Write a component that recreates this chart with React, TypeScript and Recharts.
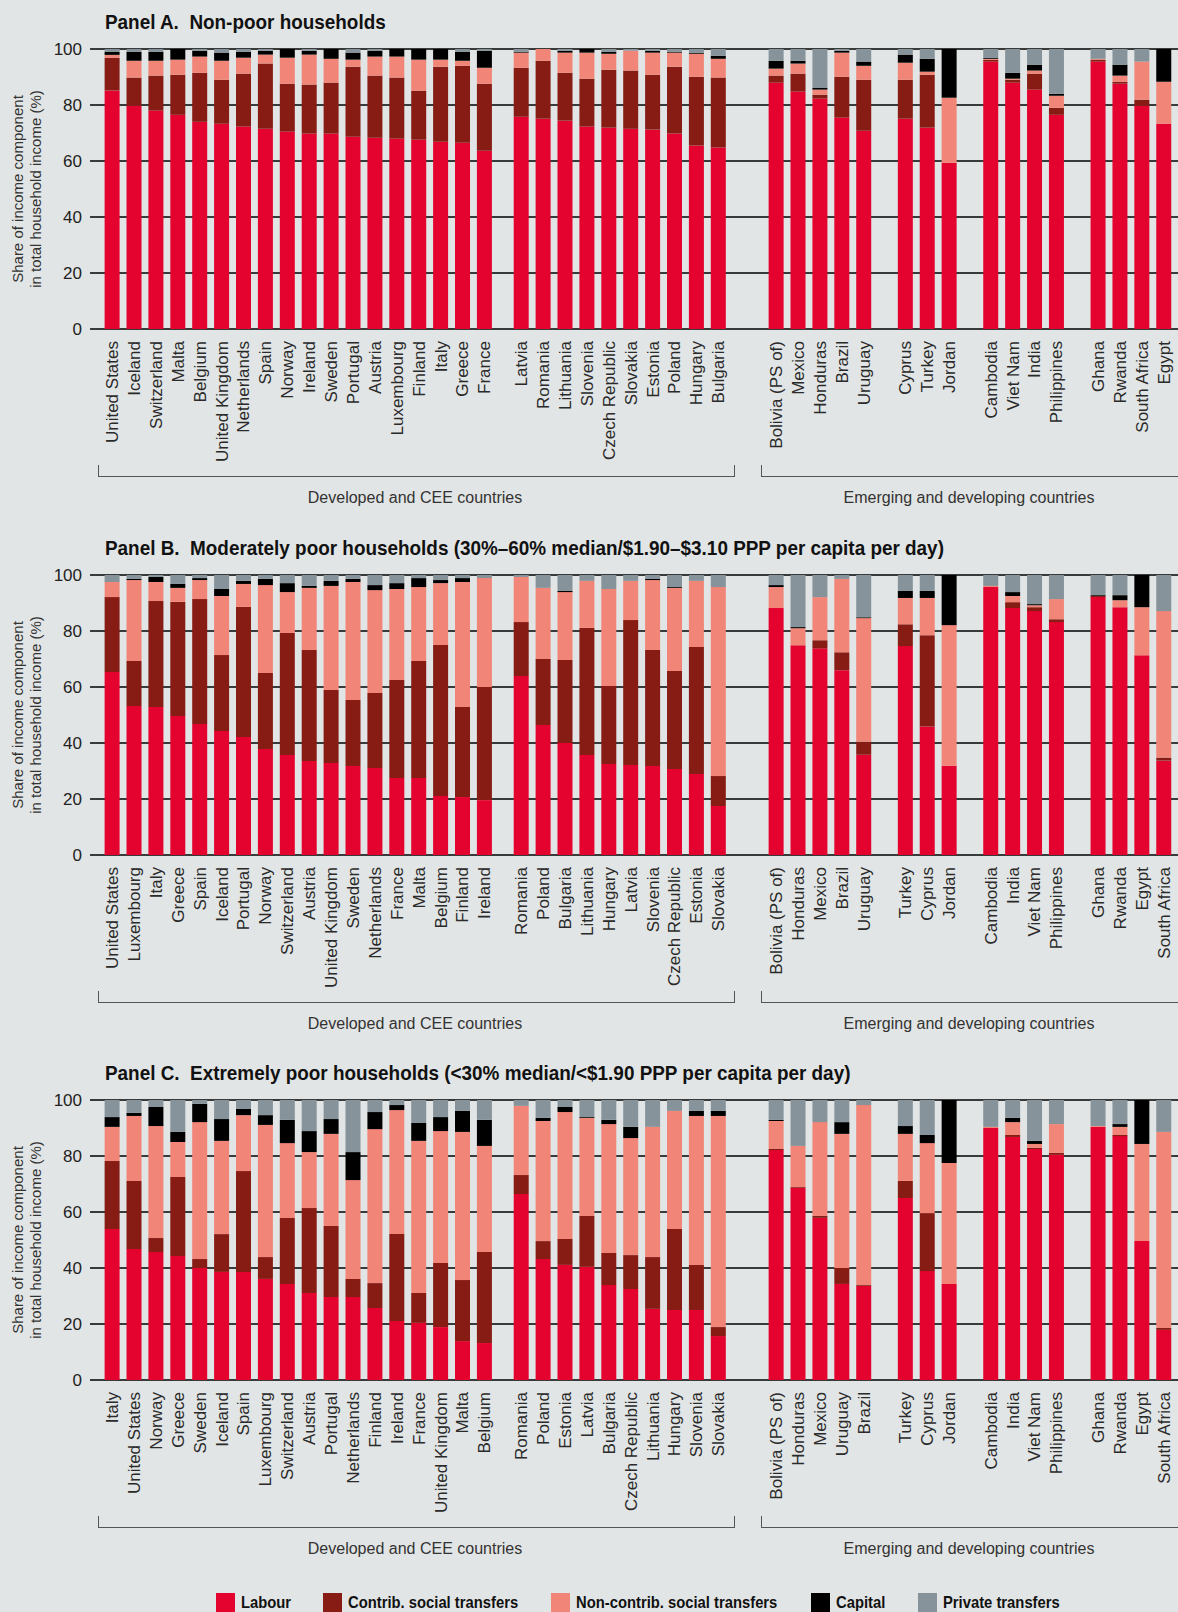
import React from 'react';
import { BarChart, Bar, XAxis, YAxis, CartesianGrid } from 'recharts';

// groups: developed (18), CEE (10), then four emerging/developing groups
const groupSizes = [18, 10, 5, 3, 4, 4];
const groupGaps = [0, 1.68, 2.64, 1.9, 1.9, 1.9];

const countriesA = [
  'United States', 'Iceland', 'Switzerland', 'Malta', 'Belgium', 'United Kingdom', 'Netherlands', 'Spain', 'Norway',
  'Ireland', 'Sweden', 'Portugal', 'Austria', 'Luxembourg', 'Finland', 'Italy', 'Greece', 'France',
  'Latvia', 'Romania', 'Lithuania', 'Slovenia', 'Czech Republic', 'Slovakia', 'Estonia', 'Poland', 'Hungary', 'Bulgaria',
  'Bolivia (PS of)', 'Mexico', 'Honduras', 'Brazil', 'Uruguay',
  'Cyprus', 'Turkey', 'Jordan',
  'Cambodia', 'Viet Nam', 'India', 'Philippines',
  'Ghana', 'Rwanda', 'South Africa', 'Egypt',
];
const labourA = [85.2, 79.8, 78.0, 76.5, 74.0, 73.3, 72.3, 71.5, 70.5, 69.8, 69.8, 68.7, 68.3, 68.0, 67.6, 66.9, 66.5, 63.7,
  75.8, 75.1, 74.4, 72.3, 71.9, 71.5, 71.2, 69.8, 65.5, 64.8,
  88.0, 84.8, 82.3, 75.5, 70.8, 75.1, 71.9, 59.4, 95.5, 88.0, 85.5, 76.5, 95.5, 87.6, 79.8, 73.3];
const contribA = [11.7, 10.0, 12.5, 14.3, 17.5, 15.7, 18.9, 23.3, 17.1, 17.5, 18.2, 25.0, 22.2, 21.8, 17.5, 26.8, 27.5, 23.9,
  17.5, 20.7, 17.1, 17.1, 20.7, 20.8, 19.6, 23.9, 24.6, 25.0,
  2.5, 6.4, 1.4, 14.6, 18.2, 13.9, 18.9, 0, 0.6, 1.0, 5.7, 2.5, 0.7, 0.7, 2.1, 0];
const nonContribA = [1.0, 6.0, 5.3, 5.4, 5.8, 6.8, 5.7, 3.2, 9.3, 10.7, 8.5, 2.5, 6.8, 7.5, 11.1, 2.5, 1.8, 5.7,
  5.4, 4.2, 7.2, 9.3, 5.7, 7.1, 7.9, 5.0, 8.2, 6.7,
  2.5, 3.6, 1.8, 8.6, 5.0, 6.1, 1.1, 23.2, 0.4, 0.4, 1.1, 4.3, 0.3, 2.2, 13.6, 15.0];
const capitalA = [1.1, 3.2, 3.2, 3.8, 2.1, 2.9, 2.1, 1.4, 3.1, 1.4, 3.5, 2.5, 2.1, 2.7, 3.8, 3.8, 3.2, 6.1,
  0.3, 0, 0.7, 1.3, 0.7, 0, 0.7, 0.3, 0.3, 1.1,
  2.8, 1.0, 0.7, 0.7, 1.5, 2.9, 4.6, 17.4, 0.3, 2.1, 2.1, 0.7, 0, 3.9, 0, 11.7];
const privateA = [1.0, 1.0, 1.0, 0, 0.6, 1.3, 1.0, 0.6, 0, 0.6, 0, 1.3, 0.6, 0, 0, 0, 1.0, 0.6,
  1.0, 0, 0.6, 0, 1.0, 0.6, 0.6, 1.0, 1.4, 2.4,
  4.2, 4.2, 13.8, 0.6, 4.5, 2.0, 3.5, 0, 3.2, 8.5, 5.6, 16.0, 3.5, 5.6, 4.5, 0];

const countriesB = [
  'United States', 'Luxembourg', 'Italy', 'Greece', 'Spain', 'Iceland', 'Portugal', 'Norway', 'Switzerland',
  'Austria', 'United Kingdom', 'Sweden', 'Netherlands', 'France', 'Malta', 'Belgium', 'Finland', 'Ireland',
  'Romania', 'Poland', 'Bulgaria', 'Lithuania', 'Hungary', 'Latvia', 'Slovenia', 'Czech Republic', 'Estonia', 'Slovakia',
  'Bolivia (PS of)', 'Honduras', 'Mexico', 'Brazil', 'Uruguay',
  'Turkey', 'Cyprus', 'Jordan',
  'Cambodia', 'India', 'Viet Nam', 'Philippines',
  'Ghana', 'Rwanda', 'Egypt', 'South Africa',
];
const labourB = [65.4, 53.2, 52.9, 49.6, 46.8, 44.3, 42.1, 37.9, 35.7, 33.6, 32.9, 31.8, 31.1, 27.5, 27.5, 21.1, 20.7, 19.6,
  63.9, 46.4, 40.0, 35.7, 32.5, 32.1, 31.8, 30.7, 28.9, 17.5,
  88.2, 74.9, 73.8, 66.0, 35.8, 74.6, 45.9, 31.9, 95.7, 88.2, 87.1, 83.2, 92.1, 88.5, 71.3, 33.7];
const contribB = [26.7, 16.1, 37.8, 40.8, 44.6, 27.1, 46.5, 27.1, 43.6, 39.6, 26.0, 23.6, 26.8, 35.0, 41.8, 53.9, 32.2, 40.4,
  19.3, 23.6, 29.6, 45.4, 27.9, 51.8, 41.4, 35.0, 45.4, 10.7,
  0, 0, 2.9, 6.4, 4.7, 7.8, 32.6, 0, 0, 2.1, 1.4, 1.0, 0.4, 0, 0, 1.1];
const nonContribB = [5.4, 28.9, 6.8, 5.0, 6.8, 21.1, 8.2, 31.4, 14.6, 22.2, 37.2, 42.1, 36.7, 32.5, 26.4, 22.1, 44.6, 38.9,
  16.1, 25.4, 24.3, 16.8, 34.6, 14.0, 25.0, 29.7, 23.6, 67.5,
  7.5, 6.1, 15.4, 26.2, 44.1, 9.4, 13.3, 50.2, 0.4, 2.2, 0.7, 7.2, 0, 2.5, 17.2, 52.3];
const capitalB = [0, 0.4, 1.8, 1.4, 0.7, 2.5, 1.1, 2.2, 3.2, 0.7, 1.8, 1.1, 1.8, 2.1, 3.2, 1.1, 1.4, 0,
  0, 0, 0.4, 0, 0, 0, 0.4, 0.3, 0, 0,
  0.7, 0.4, 0, 0, 0.3, 2.5, 2.5, 17.9, 0, 1.4, 0.4, 0, 0.3, 1.8, 11.5, 0];
const privateB = [2.5, 1.4, 0.7, 3.2, 1.1, 5.0, 2.1, 1.4, 2.9, 3.9, 2.1, 1.4, 3.6, 2.9, 1.1, 1.8, 1.1, 1.1,
  0.7, 4.6, 5.7, 2.1, 5.0, 2.1, 1.4, 4.3, 2.1, 4.3,
  3.6, 18.6, 7.9, 1.4, 15.1, 5.7, 5.7, 0, 3.9, 6.1, 10.4, 8.6, 7.2, 7.2, 0, 12.9];

const countriesC = [
  'Italy', 'United States', 'Norway', 'Greece', 'Sweden', 'Iceland', 'Spain', 'Luxembourg', 'Switzerland',
  'Austria', 'Portugal', 'Netherlands', 'Finland', 'Ireland', 'France', 'United Kingdom', 'Malta', 'Belgium',
  'Romania', 'Poland', 'Estonia', 'Latvia', 'Bulgaria', 'Czech Republic', 'Lithuania', 'Hungary', 'Slovenia', 'Slovakia',
  'Bolivia (PS of)', 'Honduras', 'Mexico', 'Uruguay', 'Brazil',
  'Turkey', 'Cyprus', 'Jordan',
  'Cambodia', 'India', 'Viet Nam', 'Philippines',
  'Ghana', 'Rwanda', 'Egypt', 'South Africa',
];
const labourC = [53.9, 46.8, 45.7, 44.3, 40.0, 38.6, 38.6, 36.1, 34.3, 31.1, 29.6, 29.6, 25.7, 21.1, 20.4, 18.9, 13.9, 13.2,
  66.4, 43.2, 41.1, 40.4, 33.9, 32.5, 25.4, 25.0, 25.0, 15.7,
  82.1, 68.6, 57.9, 34.3, 33.6, 65.0, 38.9, 34.3, 90.0, 86.8, 82.5, 80.4, 90.4, 87.1, 49.6, 17.9];
const contribC = [24.3, 24.3, 5.0, 28.2, 3.2, 13.5, 36.0, 7.8, 23.6, 30.3, 25.4, 6.5, 8.9, 31.0, 10.7, 22.9, 21.8, 32.5,
  6.8, 6.4, 9.3, 18.2, 11.5, 12.1, 18.5, 28.9, 16.1, 3.2,
  0.4, 0.3, 0.7, 5.7, 0.3, 6.1, 20.7, 0, 0, 0.7, 0.4, 0.7, 0, 0.4, 0, 0.7];
const nonContribC = [12.2, 23.2, 40.0, 12.5, 48.9, 33.3, 20.0, 47.2, 26.7, 20.0, 32.9, 35.3, 55.0, 44.3, 54.3, 47.1, 52.9, 37.9,
  24.7, 42.9, 45.3, 35.0, 46.0, 41.8, 46.5, 42.2, 53.2, 75.4,
  10.0, 14.7, 33.5, 47.9, 64.3, 16.8, 25.0, 43.2, 0.4, 4.6, 1.4, 10.3, 0.3, 2.9, 34.7, 70.0];
const capitalC = [3.5, 1.1, 6.8, 3.6, 6.5, 7.8, 2.2, 3.5, 8.3, 7.5, 5.3, 10.0, 6.1, 1.8, 6.4, 5.0, 7.5, 9.3,
  0, 1.1, 1.8, 0.3, 1.5, 4.0, 0, 0, 1.8, 1.8,
  0.4, 0, 0, 4.2, 0, 2.8, 2.9, 22.5, 0, 1.5, 1.1, 0, 0, 1.0, 15.7, 0];
const privateC = [6.1, 4.6, 2.5, 11.4, 1.4, 6.8, 3.2, 5.4, 7.1, 11.1, 6.8, 18.6, 4.3, 1.8, 8.2, 6.1, 3.9, 7.1,
  2.1, 6.4, 2.5, 6.1, 7.1, 9.6, 9.6, 3.9, 3.9, 3.9,
  7.1, 16.4, 7.9, 7.9, 1.8, 9.3, 12.5, 0, 9.6, 6.4, 14.6, 8.6, 9.3, 8.6, 0, 11.4];

const yTicks = [0, 20, 40, 60, 80, 100];

const series = [
  { key: 'labour', name: 'Labour', color: '#e4032e' },
  { key: 'contrib', name: 'Contrib. social transfers', color: '#861c14' },
  { key: 'nonContrib', name: 'Non-contrib. social transfers', color: '#f18577' },
  { key: 'capital', name: 'Capital', color: '#000000' },
  { key: 'privateT', name: 'Private transfers', color: '#86939a' },
];
// left edge of each legend swatch (px)
const legendLefts = [216, 323, 551, 811, 918];

// slot position of every bar, groups separated by wider gaps
const positions: number[] = [];
(() => {
  let p = 0;
  groupSizes.forEach((n, g) => {
    if (g > 0) p += groupGaps[g];
    for (let i = 0; i < n; i++) {
      positions.push(p);
      if (i < n - 1) p += 1;
    }
  });
})();

const BG = '#e2e5e5';
const SANS = '"Liberation Sans", Arial, sans-serif';
const NARROW = '"Liberation Sans Narrow", "Liberation Sans", Arial, sans-serif';

type PanelProps = {
  top: number;
  title: string;
  countries: string[];
  labour: number[];
  contrib: number[];
  nonContrib: number[];
  capital: number[];
  privateT: number[];
};

const Panel = ({ top, title, countries, labour, contrib, nonContrib, capital, privateT }: PanelProps) => {
  const rows = countries.map((name, i) => ({
    pos: positions[i],
    name,
    labour: labour[i],
    contrib: contrib[i],
    nonContrib: nonContrib[i],
    capital: capital[i],
    privateT: privateT[i],
  }));

  const CountryTick = (props: any) => {
    const { x, y, payload } = props;
    const row = rows.find((r) => Math.abs(r.pos - payload.value) < 0.01);
    return (
      <text
        x={x}
        y={y + 12}
        transform={`rotate(-90, ${x}, ${y + 12})`}
        textAnchor="end"
        dominantBaseline="central"
        fontSize={17}
        fontFamily={SANS}
        fill="#2a2a2a"
      >
        {row ? row.name : ''}
      </text>
    );
  };

  return (
    <div style={{ position: 'absolute', left: 0, top, width: 1178, height: 526 }}>
      <BarChart width={1178} height={470} data={rows} margin={{ top: 49, right: 0, bottom: 11, left: 0 }}>
        <CartesianGrid vertical={false} stroke="#000" strokeWidth={1.5} />
        <XAxis
          type="number"
          dataKey="pos"
          domain={[-1.03, 48.65]}
          ticks={positions}
          interval={0}
          allowDataOverflow
          axisLine={false}
          tickLine={false}
          tickSize={0}
          tickMargin={0}
          height={130}
          tick={<CountryTick />}
        />
        <YAxis
          domain={[0, 100]}
          ticks={yTicks}
          allowDataOverflow
          width={90}
          axisLine={false}
          tickLine={false}
          tickSize={0}
          tickMargin={8}
          tick={{ fontSize: 17, fill: '#222', fontFamily: SANS }}
        />
        {series.map((s) => (
          <Bar key={s.key} dataKey={s.key} stackId="a" fill={s.color} barSize={15} isAnimationActive={false} />
        ))}
      </BarChart>

      <div
        style={{
          position: 'absolute', left: 105, top: 11, fontFamily: NARROW, fontWeight: 'bold',
          fontSize: 21, lineHeight: '22px', color: '#111', whiteSpace: 'pre',
          transform: 'scaleX(0.9)', transformOrigin: 'left center',
        }}
      >
        {title}
      </div>

      <div
        style={{
          position: 'absolute', left: -111, top: 169, width: 280, height: 40, transform: 'rotate(-90deg)',
          textAlign: 'center', fontFamily: SANS, fontSize: 15, lineHeight: '18px', color: '#333',
        }}
      >
        Share of income component
        <br />
        in total household income (%)
      </div>

      {/* group brackets */}
      <div
        style={{
          position: 'absolute', left: 98, top: 465, width: 635, height: 11,
          borderLeft: '1px solid #555', borderRight: '1px solid #555', borderBottom: '1px solid #555',
        }}
      />
      <div
        style={{
          position: 'absolute', left: 761, top: 465, width: 430, height: 11,
          borderLeft: '1px solid #555', borderBottom: '1px solid #555',
        }}
      />
      <div
        style={{
          position: 'absolute', left: 215, top: 488, width: 400, textAlign: 'center',
          fontFamily: SANS, fontSize: 16, lineHeight: '20px', color: '#333',
        }}
      >
        Developed and CEE countries
      </div>
      <div
        style={{
          position: 'absolute', left: 769, top: 488, width: 400, textAlign: 'center',
          fontFamily: SANS, fontSize: 16, lineHeight: '20px', color: '#333',
        }}
      >
        Emerging and developing countries
      </div>
    </div>
  );
};

export default function App() {
  return (
    <div
      style={{
        position: 'absolute', left: 0, top: 0, width: 1178, height: 1612,
        background: BG, overflow: 'hidden',
      }}
    >
      <Panel
        top={0}
        title="Panel A.  Non-poor households"
        countries={countriesA}
        labour={labourA}
        contrib={contribA}
        nonContrib={nonContribA}
        capital={capitalA}
        privateT={privateA}
      />
      <Panel
        top={526}
        title="Panel B.  Moderately poor households (30%–60% median/$1.90–$3.10 PPP per capita per day)"
        countries={countriesB}
        labour={labourB}
        contrib={contribB}
        nonContrib={nonContribB}
        capital={capitalB}
        privateT={privateB}
      />
      <Panel
        top={1051}
        title="Panel C.  Extremely poor households (<30% median/<$1.90 PPP per capita per day)"
        countries={countriesC}
        labour={labourC}
        contrib={contribC}
        nonContrib={nonContribC}
        capital={capitalC}
        privateT={privateC}
      />

      {series.map((s, i) => (
        <div
          key={s.key}
          style={{
            position: 'absolute', left: legendLefts[i], top: 1593, display: 'flex', alignItems: 'flex-start',
            fontFamily: NARROW, fontWeight: 'bold', fontSize: 17, lineHeight: '20px', color: '#111',
            whiteSpace: 'nowrap',
          }}
        >
          <div style={{ width: 19, height: 19, background: s.color, marginRight: 6 }} />
          <span style={{ display: 'inline-block', transform: 'scaleX(0.87)', transformOrigin: 'left center' }}>
            {s.name}
          </span>
        </div>
      ))}
    </div>
  );
}
